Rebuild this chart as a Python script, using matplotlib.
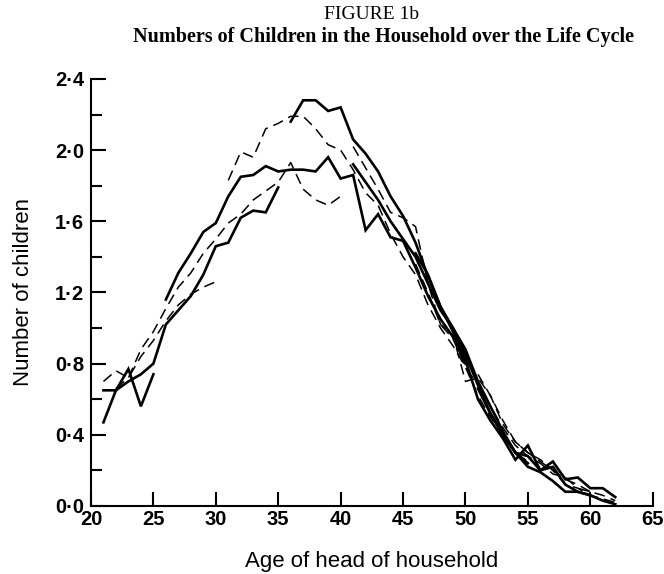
import matplotlib
matplotlib.use("Agg")
import matplotlib.pyplot as plt
import numpy as np

# cohort profiles: start age and one value per year of age
s1_start = 21
s1_vals = [0.47, 0.65, 0.77, 0.56, 0.74]

d1_start = 21
d1_vals = [0.70, 0.76, 0.72, 0.84, 0.93, 1.04, 1.13, 1.19, 1.23, 1.26]

s2_start = 21
s2_vals = [0.65, 0.65, 0.70, 0.74, 0.80, 1.02, 1.10, 1.18, 1.30, 1.46,
           1.48, 1.62, 1.66, 1.65, 1.79]

d2_start = 22
d2_vals = [0.66, 0.72, 0.88, 0.98, 1.11, 1.23, 1.31, 1.42, 1.50, 1.59,
           1.64, 1.72, 1.77, 1.82, 1.93, 1.78, 1.72, 1.69, 1.74]

s3_start = 26
s3_vals = [1.16, 1.31, 1.42, 1.54, 1.59, 1.74, 1.85, 1.86, 1.91, 1.88,
           1.89, 1.89, 1.88, 1.96, 1.84, 1.86, 1.55, 1.64, 1.51, 1.49,
           1.34, 1.18, 1.05, 0.95, 0.80]

d3_start = 31
d3_vals = [1.83, 1.99, 1.96, 2.12, 2.15, 2.19, 2.19, 2.12, 2.03, 2.00,
           1.89, 1.76, 1.69, 1.53, 1.40, 1.30, 1.13, 1.00, 0.90, 0.78,
           0.62, 0.50, 0.40, 0.30, 0.25]

s4_start = 36
s4_vals = [2.16, 2.28, 2.28, 2.22, 2.24, 2.06, 1.98, 1.88, 1.74, 1.63,
           1.48, 1.29, 1.12, 1.00, 0.85, 0.68, 0.52, 0.40, 0.30, 0.24]

d4_start = 41
d4_vals = [2.02, 1.90, 1.78, 1.65, 1.62, 1.57, 1.25, 1.02, 0.96, 0.70,
           0.72, 0.62, 0.46, 0.36, 0.30, 0.25, 0.20, 0.15, 0.12, 0.08]

s5_start = 41
s5_vals = [1.92, 1.82, 1.72, 1.60, 1.50, 1.40, 1.25, 1.10, 1.00, 0.88,
           0.70, 0.56, 0.42, 0.30, 0.28, 0.20, 0.22, 0.12, 0.08, 0.06]

s6_start = 46
s6_vals = [1.42, 1.30, 1.12, 0.98, 0.82, 0.60, 0.48, 0.38, 0.26, 0.34,
           0.20, 0.25, 0.15, 0.16, 0.10, 0.10, 0.05]

d5_start = 46
d5_vals = [1.36, 1.20, 1.02, 0.94, 0.78, 0.68, 0.56, 0.44, 0.34, 0.28,
           0.24, 0.18, 0.16, 0.10, 0.08, 0.06, 0.03]

s7_start = 51
s7_vals = [0.66, 0.52, 0.40, 0.30, 0.22, 0.19, 0.14, 0.08, 0.08, 0.06,
           0.03, 0.01]

d6_start = 51
d6_vals = [0.74, 0.62, 0.48, 0.36, 0.30, 0.26, 0.20, 0.12, 0.10, 0.06,
           0.04, 0.02]

x_ticks = [20, 25, 30, 35, 40, 45, 50, 55, 60, 65]
y_ticks = [0.0, 0.4, 0.8, 1.2, 1.6, 2.0, 2.4]
y_ticklabels = ["0·0", "0·4", "0·8", "1·2", "1·6", "2·0", "2·4"]

solid = dict(color="black", lw=1.9, solid_joinstyle="miter")
dashed = dict(color="black", lw=1.1, linestyle=(0, (7, 4)))

cohorts = [
    (s1_start, s1_vals, solid), (d1_start, d1_vals, dashed),
    (s2_start, s2_vals, solid), (d2_start, d2_vals, dashed),
    (s3_start, s3_vals, solid), (d3_start, d3_vals, dashed),
    (s4_start, s4_vals, solid), (d4_start, d4_vals, dashed),
    (s5_start, s5_vals, solid), (s6_start, s6_vals, solid),
    (d5_start, d5_vals, dashed), (s7_start, s7_vals, solid),
    (d6_start, d6_vals, dashed),
]

fig = plt.figure(figsize=(6.64, 5.74), dpi=100, facecolor="white")
ax = fig.add_axes([0.137, 0.1185, 0.846, 0.744])

for start, vals, style in cohorts:
    ages = np.arange(start, start + len(vals))
    ax.plot(ages, vals, **style)

ax.set_xlim(20, 65)
ax.set_ylim(0, 2.4)
ax.spines["top"].set_visible(False)
ax.spines["right"].set_visible(False)
ax.spines["left"].set_linewidth(1.5)
ax.spines["bottom"].set_linewidth(1.5)

ax.set_xticks(x_ticks)
ax.set_yticks(y_ticks)
ax.set_yticklabels(y_ticklabels)
ax.set_yticks(np.arange(0.2, 2.4, 0.4), minor=True)
ax.tick_params(axis="both", which="major", direction="in", width=1.5,
               labelsize=14.5)
ax.tick_params(axis="x", which="major", length=10, pad=3)
ax.tick_params(axis="y", which="major", length=11, pad=5)
ax.tick_params(axis="y", which="minor", direction="in", length=8, width=1.5)
for lab in ax.get_xticklabels() + ax.get_yticklabels():
    lab.set_family("Liberation Sans")
    lab.set_fontweight("bold")

ax.set_xlabel("Age of head of household", fontsize=16,
              family="Liberation Sans", labelpad=16)
ax.set_ylabel("Number of children", fontsize=16,
              family="Liberation Sans", labelpad=15)

fig.text(0.56, 0.975, "FIGURE 1b", ha="center", va="center",
         family="Liberation Serif", fontsize=14)
fig.text(0.577, 0.935, "Numbers of Children in the Household over the Life Cycle",
         ha="center", va="center", family="Liberation Serif",
         fontweight="bold", fontsize=14.5)

fig.savefig("out.png", dpi=100, facecolor="white")
